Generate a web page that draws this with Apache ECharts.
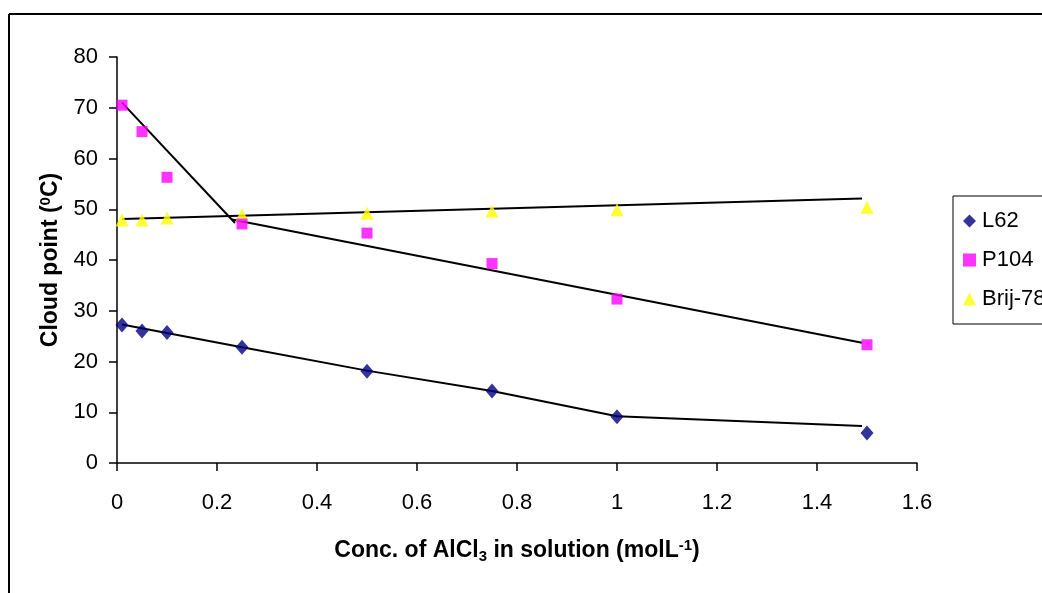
<!DOCTYPE html>
<html>
<head>
<meta charset="utf-8">
<script src="https://cdn.jsdelivr.net/npm/echarts@6/dist/echarts.min.js"></script>
<style>
  html, body { margin: 0; padding: 0; background: #fff; }
  #main { width: 1042px; height: 593px; }
</style>
</head>
<body>
<div id="main"></div>
<script>
// AlCl3 concentration (mol/L)
var conc = [0.01, 0.05, 0.1, 0.25, 0.5, 0.75, 1.0, 1.5]
// cloud points (deg C)
var l62 = [27.2, 26.0, 25.7, 22.8, 18.1, 14.2, 9.1, 5.9]
var p104 = [70.5, 65.3, 56.3, 47.1, 45.3, 39.3, 32.3, 23.3]
var brij78 = [47.9, 47.9, 48.3, 48.9, 49.2, 49.6, 49.9, 50.4]

// the black trend lines drawn over the points
var l62Fit = [[0.01, 27.3], [0.25, 22.8], [0.5, 18.2], [0.75, 14.2], [1.0, 9.2], [1.49, 7.3]]
var p104Fit1 = [[0.01, 71.0], [0.236, 47.3]]
var p104Fit2 = [[0.23, 48.0], [1.49, 23.7]]
var brijFit = [[0.01, 48.1], [1.49, 52.1]]

var names = ['L62', 'P104', 'Brij-78']

function pairs (ys) {
  return conc.map(function (x, i) { return [x, ys[i]] })
}

function fitLine (d) {
  return {
    type: 'line',
    data: d,
    symbol: 'none',
    silent: true,
    lineStyle: { color: '#000', width: 2 },
    z: 1
  }
}

var font = 'Arial, "Liberation Sans", sans-serif'
var chart = echarts.init(document.getElementById('main'))

chart.setOption({
  animation: false,
  backgroundColor: '#fff',
  textStyle: { fontFamily: font },
  graphic: [
    // outer frame (only left and top are visible)
    { type: 'line', shape: { x1: 9, y1: 14, x2: 1042, y2: 14 }, style: { stroke: '#000', lineWidth: 2 } },
    { type: 'line', shape: { x1: 9, y1: 14, x2: 9, y2: 593 }, style: { stroke: '#000', lineWidth: 2 } }
  ],
  grid: { left: 117, right: 125, top: 57, bottom: 130 },
  legend: {
    data: names,
    orient: 'vertical',
    left: 953,
    top: 196,
    width: 120,
    padding: [14, 40, 14, 10],
    itemGap: 17,
    itemWidth: 13,
    itemHeight: 13,
    borderColor: '#000',
    borderWidth: 1,
    borderRadius: 0,
    textStyle: { fontSize: 22, color: '#000', fontFamily: font, padding: [0, 0, 0, 1] }
  },
  xAxis: {
    type: 'value',
    min: 0,
    max: 1.6,
    interval: 0.2,
    name: 'Conc. of AlCl{sub|3} in solution (molL{sup|-1})',
    nameLocation: 'middle',
    nameGap: 75,
    nameTextStyle: {
      fontSize: 23,
      fontWeight: 'bold',
      color: '#000',
      rich: {
        sub: { fontSize: 15, fontWeight: 'bold', verticalAlign: 'bottom', padding: [11, 0, 0, 0] },
        sup: { fontSize: 15, fontWeight: 'bold', verticalAlign: 'top', padding: [0, 0, 11, 0] }
      }
    },
    splitLine: { show: false },
    axisLine: { lineStyle: { color: '#000', width: 1.5 } },
    axisTick: { length: 8, lineStyle: { color: '#000', width: 1.5 } },
    axisLabel: { fontSize: 22, color: '#000', margin: 29 }
  },
  yAxis: {
    type: 'value',
    min: 0,
    max: 80,
    interval: 10,
    name: 'Cloud point ({sup|0}C)',
    nameLocation: 'middle',
    nameGap: 51,
    nameTextStyle: {
      fontSize: 23,
      fontWeight: 'bold',
      color: '#000',
      rich: {
        sup: { fontSize: 15, fontWeight: 'bold', verticalAlign: 'top', padding: [0, 0, 11, 0] }
      }
    },
    splitLine: { show: false },
    axisLine: { show: true, lineStyle: { color: '#000', width: 1.5 } },
    axisTick: { show: true, length: 8, lineStyle: { color: '#000', width: 1.5 } },
    axisLabel: { fontSize: 22, color: '#000', margin: 19 }
  },
  series: [
    fitLine(l62Fit),
    fitLine(p104Fit1),
    fitLine(p104Fit2),
    fitLine(brijFit),
    {
      name: names[0],
      type: 'scatter',
      data: pairs(l62),
      symbol: 'diamond',
      symbolSize: [13, 15],
      itemStyle: { color: '#000080' },
      z: 3
    },
    {
      name: names[1],
      type: 'scatter',
      data: pairs(p104),
      symbol: 'rect',
      symbolSize: 11,
      itemStyle: { color: '#FF00FF' },
      z: 3
    },
    {
      name: names[2],
      type: 'scatter',
      data: pairs(brij78),
      symbol: 'triangle',
      symbolSize: [13, 13],
      itemStyle: { color: '#FFFF00' },
      z: 2
    }
  ]
})
</script>
</body>
</html>
